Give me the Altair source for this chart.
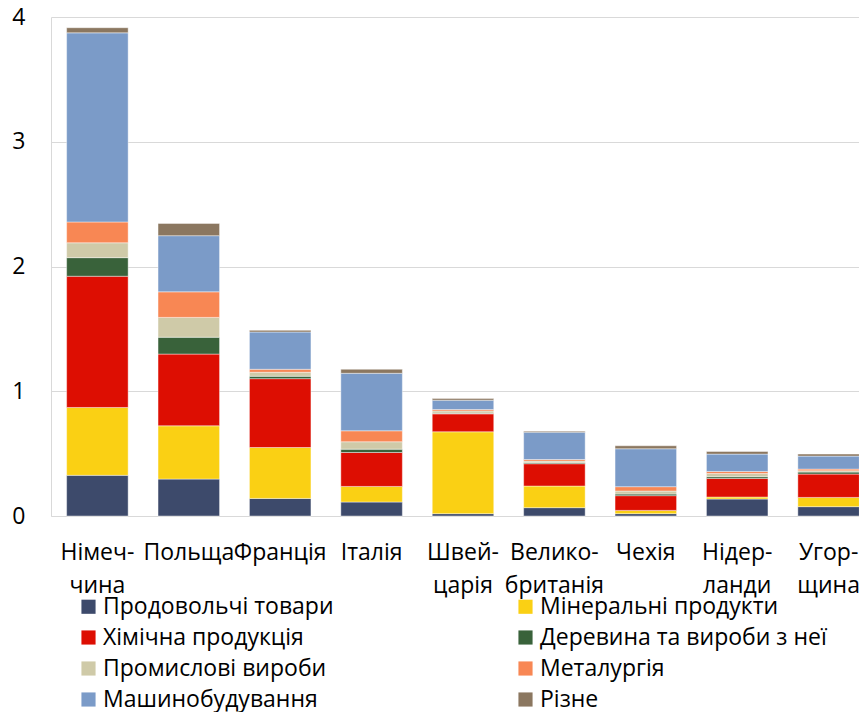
import altair as alt
import pandas as pd

countries = ["Німеч-|чина", "Польща", "Франція", "Італія", "Швей-|царія",
             "Велико-|британія", "Чехія", "Нідер-|ланди", "Угор-|щина"]

groups = ["Продовольчі товари", "Мінеральні продукти", "Хімічна продукція",
          "Деревина та вироби з неї", "Промислові вироби", "Металургія",
          "Машинобудування", "Різне"]

colors = ["#3D4A6B", "#FAD014", "#DD0E02", "#39623A", "#CFCAA8", "#F88754",
          "#7B9BC8", "#8B7760"]

food = [0.326, 0.296, 0.141, 0.112, 0.019, 0.067, 0.019, 0.136, 0.075]
mineral = [0.544, 0.427, 0.408, 0.125, 0.656, 0.173, 0.026, 0.016, 0.074]
chem = [1.052, 0.575, 0.552, 0.272, 0.144, 0.179, 0.118, 0.149, 0.187]
wood = [0.149, 0.135, 0.019, 0.027, 0.005, 0.008, 0.013, 0.014, 0.016]
industrial = [0.119, 0.159, 0.032, 0.059, 0.018, 0.013, 0.024, 0.026, 0.010]
metal = [0.167, 0.205, 0.024, 0.088, 0.011, 0.013, 0.035, 0.016, 0.014]
machinery = [1.516, 0.450, 0.299, 0.461, 0.075, 0.219, 0.304, 0.139, 0.104]
misc = [0.041, 0.098, 0.013, 0.032, 0.013, 0.008, 0.024, 0.021, 0.016]

series = [food, mineral, chem, wood, industrial, metal, machinery, misc]

rows = []
for gi, (g, vals) in enumerate(zip(groups, series)):
    for c, v in zip(countries, vals):
        rows.append({"country": c, "group": g, "idx": gi, "value": v})
df = pd.DataFrame(rows)

FONT = "Open Sans"
FS = 23

chart = alt.Chart(df).mark_bar(
    stroke="#ffffff", strokeWidth=0.6, strokeOpacity=0.7
).encode(
    x=alt.X("country:N", sort=countries, title=None,
            scale=alt.Scale(paddingInner=0.327, paddingOuter=0.171, range=[0, 824]),
            axis=alt.Axis(labelExpr="split(datum.label, '|')", labelAngle=0,
                          labelFontSize=FS, labelFont=FONT, labelColor="#000000",
                          labelLineHeight=33, labelPadding=25, labelOverlap=False,
                          labelLimit=300, ticks=False, domainColor="#d9d9d9",
                          domainWidth=1.2, labelBaseline="top")),
    y=alt.Y("value:Q", stack="zero", title=None,
            scale=alt.Scale(domain=[0, 4], nice=False),
            axis=alt.Axis(values=[0, 1, 2, 3, 4], format="d", labelFontSize=FS,
                          labelFont=FONT, labelColor="#000000", labelPadding=26,
                          ticks=False, domainColor="#d9d9d9", gridColor="#d9d9d9",
                          gridWidth=1.2)),
    color=alt.Color("group:N", sort=groups, title=None,
                    scale=alt.Scale(domain=groups, range=colors),
                    legend=alt.Legend(orient="none", legendX=26, legendY=578,
                                      direction="horizontal",
                                      columns=2, columnPadding=180, rowPadding=7,
                                      symbolType="square", symbolSize=200,
                                      symbolStrokeWidth=0, labelFontSize=FS,
                                      labelFont=FONT, labelColor="#000000",
                                      labelOffset=3, labelLimit=400)),
    order=alt.Order("idx:Q", sort="ascending"),
).properties(
    width=808, height=499,
    autosize=alt.AutoSizeParams(type="none"),
    padding={"left": 43, "top": 9, "right": 0, "bottom": 196},
).configure_view(stroke=None)

chart.save("out.html", embed_options={"renderer": "svg", "actions": False})
